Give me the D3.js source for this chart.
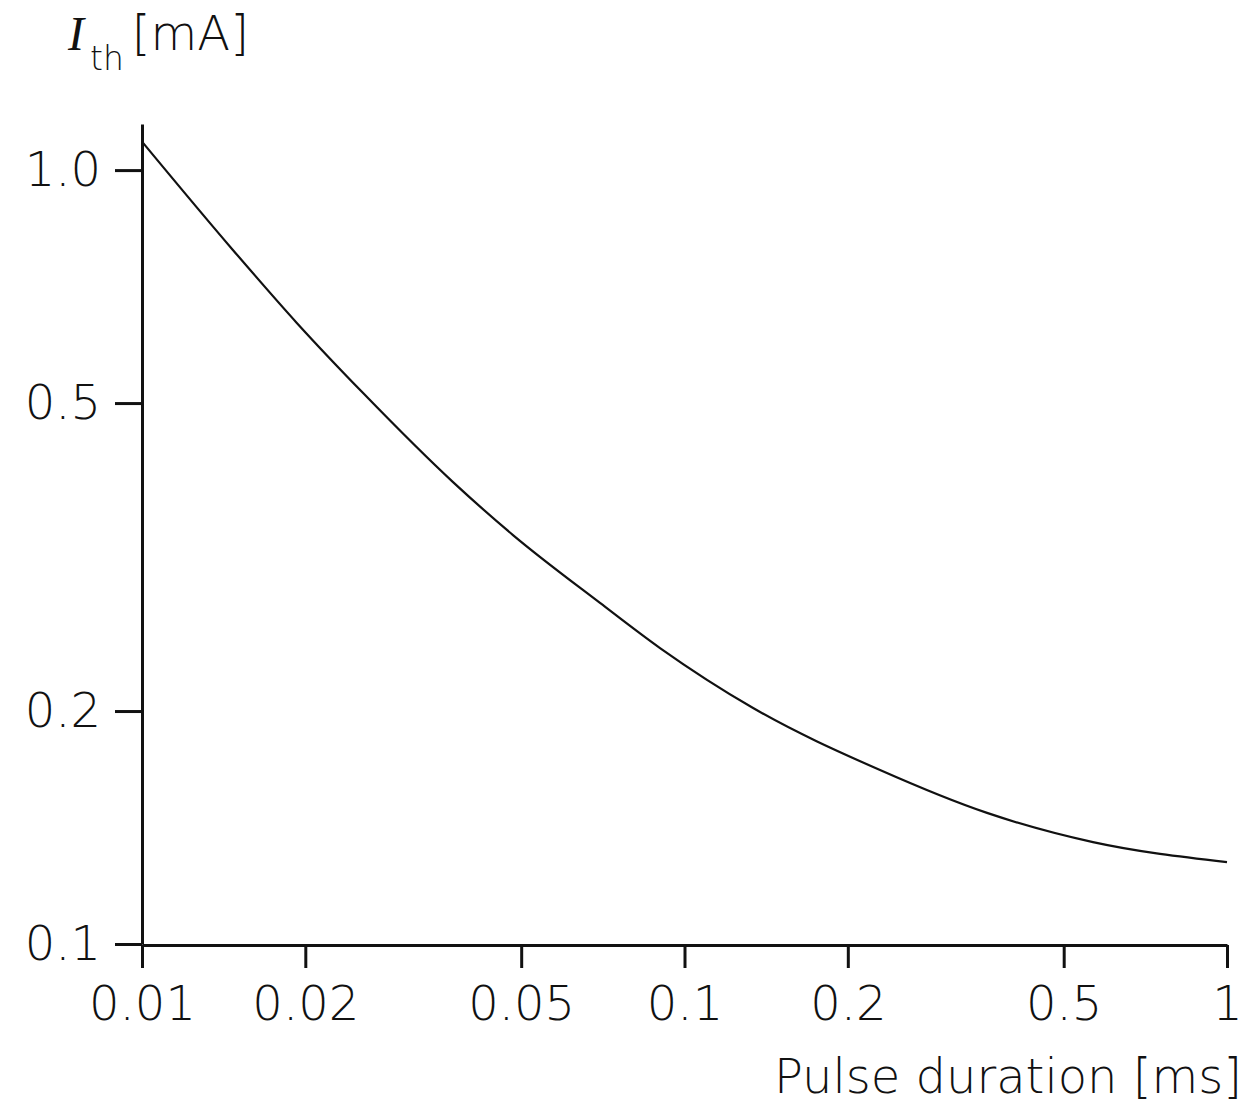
<!DOCTYPE html>
<html>
<head>
<meta charset="utf-8">
<script src="https://cdn.jsdelivr.net/npm/d3@7"></script>
<style>
  body { margin: 0; background: #fff; }
  svg text { font-family: "DejaVu Sans", sans-serif; font-weight: 200; fill: #111; }
</style>
</head>
<body>
<svg width="1247" height="1104"></svg>
<script>
// pulse duration (ms) vs threshold current (mA)
const duration = [0.01, 0.01472, 0.01931, 0.02556, 0.03744, 0.04829, 0.06986, 0.09013, 0.1338, 0.2293, 0.3611, 0.5662, 1.0];
const current  = [1.0885, 0.788, 0.6342, 0.5151, 0.3952, 0.3376, 0.2759, 0.2412, 0.2018, 0.1678, 0.1477, 0.1354, 0.1276];

const xTicks = [0.01, 0.02, 0.05, 0.1, 0.2, 0.5, 1];
const xTickLabels = ["0.01", "0.02", "0.05", "0.1", "0.2", "0.5", "1"];
const yTicks = [0.1, 0.2, 0.5, 1.0];
const yTickLabels = ["0.1", "0.2", "0.5", "1.0"];

const svg = d3.select('svg');

const x = d3.scaleLog().domain([0.01, 1]).range([142, 1227]);
const y = d3.scaleLog().domain([0.1, 1.147]).range([944, 124]);

// x axis
const xAxis = d3.axisBottom(x)
  .tickValues(xTicks)
  .tickFormat((d, i) => xTickLabels[i])
  .tickSizeInner(23)
  .tickSizeOuter(0)
  .tickPadding(18);

const gx = svg.append('g')
  .attr('transform', 'translate(0,945)')
  .call(xAxis);
gx.select('.domain').attr('stroke', '#111').attr('stroke-width', 3);
gx.selectAll('.tick line').attr('stroke', '#111').attr('stroke-width', 3);
gx.selectAll('.tick text').attr('font-size', 48).attr('fill', '#111');

// y axis
const yAxis = d3.axisLeft(y)
  .tickValues(yTicks)
  .tickFormat((d, i) => yTickLabels[i])
  .tickSizeInner(27)
  .tickSizeOuter(0)
  .tickPadding(14);

const gy = svg.append('g')
  .attr('transform', 'translate(142,0)')
  .call(yAxis);
gy.select('.domain').attr('stroke', '#111').attr('stroke-width', 3);
gy.selectAll('.tick line').attr('stroke', '#111').attr('stroke-width', 3);
gy.selectAll('.tick text').attr('font-size', 48).attr('fill', '#111').attr('dy', '0.33em');

// curve
const pts = duration.map((d, i) => [d, current[i]]);
const line = d3.line()
  .x(d => x(d[0]))
  .y(d => y(d[1]))
  .curve(d3.curveMonotoneX);

svg.append('path')
  .datum(pts)
  .attr('d', line)
  .attr('fill', 'none')
  .attr('stroke', '#111')
  .attr('stroke-width', 2.2);

// axis titles
const yt = svg.append('text')
  .attr('x', 68)
  .attr('y', 50)
  .attr('font-size', 48);
yt.append('tspan')
  .style('font-family', '"Liberation Serif", serif')
  .style('font-style', 'italic')
  .style('font-weight', 'normal')
  .text('I');
yt.append('tspan')
  .attr('font-size', 33)
  .attr('dy', 20)
  .attr('dx', 6)
  .text('th');
yt.append('tspan')
  .attr('dy', -20)
  .attr('dx', 8)
  .text('[mA]');

svg.append('text')
  .attr('x', 1242)
  .attr('y', 1093)
  .attr('text-anchor', 'end')
  .attr('font-size', 48)
  .text('Pulse duration [ms]');
</script>
</body>
</html>
